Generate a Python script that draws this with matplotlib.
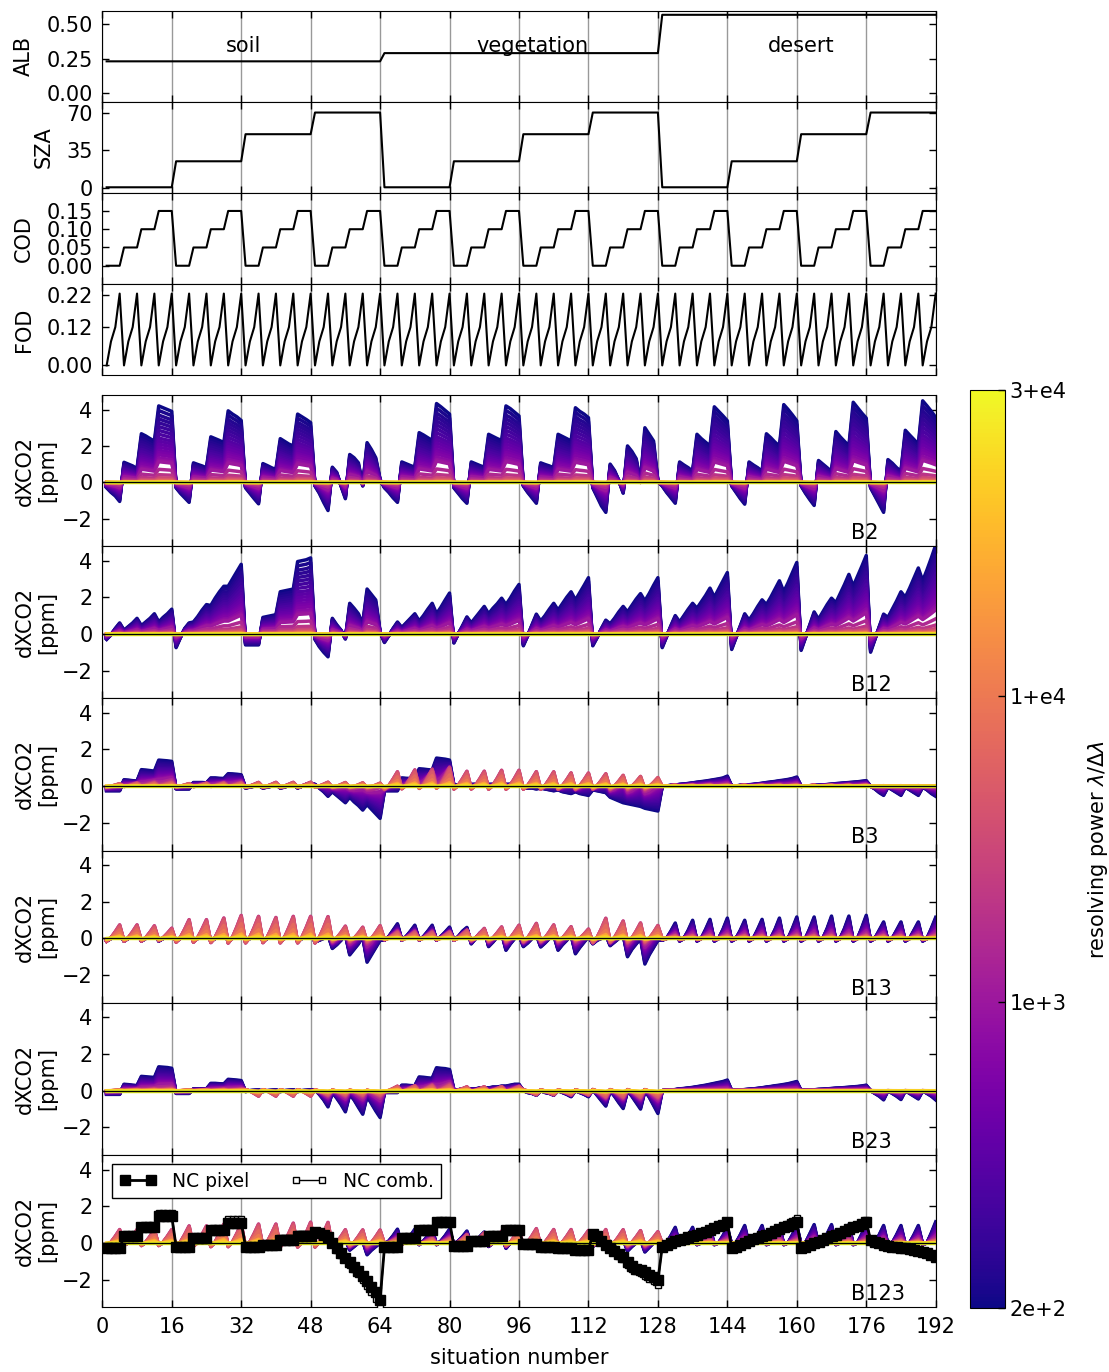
import numpy as np
import matplotlib
matplotlib.use("Agg")
import matplotlib.pyplot as plt
from matplotlib.cm import ScalarMappable
from matplotlib.colors import Normalize

plt.rcParams["font.family"] = ["DejaVu Sans"]
plt.rcParams["font.size"] = 15

# --- situation set-up: 3 surfaces x 4 SZA x 4 COD x 4 FOD = 192 ---------
surface_names = ["soil", "vegetation", "desert"]
surface_label_x = [32.5, 99, 161]
surface_albedo = [0.23, 0.29, 0.57]
sza_levels = [1, 25, 50, 70]
cod_levels = [0.0, 0.05, 0.10, 0.15]
fod_levels = [0.0, 0.075, 0.12, 0.225]

# --- resolving powers and the share of the low / mid resolution error ---
resolving_power = [200, 220, 240, 260, 280, 300, 330, 360, 400, 440, 480,
                   530, 580, 640, 700, 800, 900, 1000, 1500, 2000, 3000,
                   4000, 5000, 7000, 10000, 15000, 20000, 30000]
weight_low = [1.0, 0.94, 0.88, 0.83, 0.78, 0.73, 0.68, 0.63, 0.58, 0.54,
              0.50, 0.46, 0.42, 0.39, 0.36, 0.32, 0.29, 0.27, 0.17, 0.10,
              0.06, 0.04, 0.03, 0.02, 0.012, 0.006, 0.003, 0.0]
weight_mid = [0.0, 0.0, 0.05, 0.05, 0.1, 0.1, 0.15, 0.2, 0.25, 0.3, 0.35,
              0.4, 0.45, 0.5, 0.55, 0.6, 0.65, 0.7, 0.85, 1.0, 1.0, 0.95,
              0.85, 0.65, 0.4, 0.2, 0.1, 0.0]
cbar_rp = [200, 1000, 10000, 30000]
cbar_labels = ["2e+2", "1e+3", "1+e4", "3+e4"]

# shape of the FOD zig-zag inside one group of 4 situations
zigzag_shape = [-0.2, 0.05, 0.5, 1.0]

# --- dXCO2 at the lowest resolving power, one row per 16 situations -----
b2_low = [
    -0.30, -0.55, -0.75, -1.05, 1.10, 1.00, 0.90, 0.75, 2.67, 2.55, 2.40, 2.27, 4.20, 4.10, 4.00, 3.90,
    -0.30, -0.60, -0.85, -1.10, 1.07, 0.98, 0.90, 0.80, 2.50, 2.40, 2.30, 2.18, 3.93, 3.75, 3.60, 3.40,
    -0.30, -0.60, -0.90, -1.18, 1.03, 0.92, 0.80, 0.70, 2.40, 2.25, 2.10, 2.00, 3.75, 3.60, 3.45, 3.28,
    -0.20, -0.60, -1.10, -1.55, 0.83, 0.55, -0.20, -0.90, 1.53, 1.35, 1.07, -0.20, 2.18, 1.80, 1.35, 0.15,
    -0.30, -0.55, -0.85, -1.10, 1.12, 1.02, 0.92, 0.83, 2.73, 2.60, 2.45, 2.30, 4.33, 4.15, 3.95, 3.75,
    -0.30, -0.60, -0.90, -1.15, 1.12, 1.02, 0.92, 0.83, 2.64, 2.52, 2.40, 2.30, 4.20, 4.05, 3.85, 3.65,
    -0.20, -0.55, -0.85, -1.15, 1.07, 0.98, 0.90, 0.80, 2.64, 2.52, 2.40, 2.27, 4.10, 3.90, 3.75, 3.55,
    -0.30, -0.80, -1.30, -1.65, 1.00, 0.65, 0.10, -0.60, 2.00, 1.70, 1.30, 0.00, 3.00, 2.64, 2.27, 0.05,
    -0.20, -0.55, -0.85, -1.15, 1.12, 0.95, 0.80, 0.60, 2.64, 2.40, 2.20, 2.00, 4.15, 3.90, 3.65, 3.38,
    -0.20, -0.55, -0.90, -1.20, 1.12, 0.95, 0.80, 0.60, 2.67, 2.45, 2.20, 2.00, 4.27, 4.00, 3.70, 3.38,
    -0.20, -0.60, -0.95, -1.27, 1.20, 1.00, 0.80, 0.60, 2.79, 2.50, 2.25, 2.00, 4.40, 4.10, 3.80, 3.53,
    -0.30, -0.75, -1.20, -1.65, 1.25, 1.05, 0.80, 0.60, 2.86, 2.60, 2.35, 2.10, 4.48, 4.20, 3.90, 3.57,
]
b12_low = [
    -0.30, -0.05, 0.30, 0.60, 0.20, 0.40, 0.60, 0.85, 0.45, 0.65, 0.85, 1.10, 0.65, 0.90, 1.10, 1.35,
    -0.75, -0.20, 0.30, 0.60, 0.65, 0.95, 1.30, 1.60, 1.55, 1.95, 2.30, 2.60, 2.60, 3.00, 3.40, 3.80,
    -0.60, -0.60, -0.60, -0.60, 0.90, 0.95, 1.00, 1.05, 2.30, 2.35, 2.40, 2.45, 3.95, 4.00, 4.05, 4.15,
    -0.30, -0.70, -1.00, -1.25, 0.85, 0.50, 0.20, -0.28, 1.67, 1.40, 1.10, 0.55, 2.45, 2.15, 1.85, 0.10,
    -0.47, -0.10, 0.30, 0.65, 0.35, 0.60, 0.85, 1.10, 0.70, 1.00, 1.35, 1.67, 1.10, 1.45, 1.85, 2.23,
    -0.50, 0.00, 0.45, 0.93, 0.60, 0.90, 1.20, 1.50, 1.10, 1.40, 1.65, 1.95, 1.60, 1.95, 2.35, 2.70,
    -0.65, -0.10, 0.50, 1.08, 0.70, 1.00, 1.35, 1.67, 1.30, 1.65, 2.00, 2.30, 1.85, 2.25, 2.65, 3.07,
    -0.65, -0.20, 0.30, 0.75, 0.55, 0.85, 1.20, 1.50, 1.20, 1.55, 1.90, 2.20, 1.80, 2.20, 2.65, 3.07,
    -0.75, -0.15, 0.45, 1.00, 0.65, 1.00, 1.35, 1.67, 1.40, 1.75, 2.10, 2.50, 2.00, 2.45, 2.90, 3.35,
    -0.85, -0.20, 0.45, 1.10, 0.75, 1.10, 1.50, 1.86, 1.60, 2.00, 2.45, 2.90, 2.30, 2.80, 3.35, 3.90,
    -0.90, -0.20, 0.50, 1.20, 0.80, 1.20, 1.60, 1.95, 1.70, 2.20, 2.70, 3.25, 2.60, 3.15, 3.70, 4.28,
    -1.00, -0.30, 0.40, 1.08, 0.90, 1.35, 1.80, 2.30, 2.00, 2.50, 3.05, 3.60, 2.90, 3.50, 4.15, 4.85,
]
b3_low = [
    -0.25, -0.25, -0.25, -0.25, 0.35, 0.33, 0.30, 0.28, 0.90, 0.88, 0.85, 0.82, 1.42, 1.40, 1.38, 1.35,
    -0.15, -0.15, -0.15, -0.15, 0.20, 0.20, 0.20, 0.18, 0.45, 0.45, 0.43, 0.42, 0.68, 0.67, 0.65, 0.62,
    -0.10, -0.05, 0.00, 0.05, -0.10, -0.05, 0.00, 0.10, -0.10, -0.05, 0.05, 0.10, -0.10, 0.00, 0.10, 0.15,
    0.10, -0.10, -0.30, -0.55, -0.30, -0.50, -0.70, -0.90, -0.60, -0.85, -1.05, -1.30, -1.00, -1.25, -1.50, -1.75,
    -0.25, -0.25, -0.25, -0.25, 0.45, 0.43, 0.42, 0.40, 0.95, 0.93, 0.90, 0.88, 1.53, 1.50, 1.47, 1.42,
    0.05, 0.05, 0.10, 0.10, 0.10, 0.10, 0.15, 0.15, 0.10, 0.10, 0.15, 0.15, 0.10, 0.10, 0.15, 0.15,
    -0.05, -0.10, -0.10, -0.15, -0.10, -0.15, -0.20, -0.25, -0.20, -0.30, -0.35, -0.40, -0.30, -0.40, -0.45, -0.50,
    -0.20, -0.25, -0.30, -0.35, -0.60, -0.70, -0.80, -0.90, -0.95, -1.00, -1.05, -1.10, -1.20, -1.25, -1.30, -1.35,
    0.00, 0.02, 0.04, 0.06, 0.10, 0.12, 0.15, 0.18, 0.22, 0.25, 0.28, 0.32, 0.36, 0.40, 0.45, 0.55,
    0.00, 0.02, 0.04, 0.06, 0.08, 0.10, 0.13, 0.16, 0.20, 0.23, 0.26, 0.30, 0.33, 0.37, 0.42, 0.50,
    0.00, 0.01, 0.02, 0.03, 0.05, 0.07, 0.09, 0.11, 0.14, 0.16, 0.18, 0.20, 0.22, 0.24, 0.27, 0.30,
    0.00, -0.15, -0.35, -0.50, -0.05, -0.20, -0.35, -0.50, -0.05, -0.20, -0.35, -0.50, -0.05, -0.20, -0.40, -0.55,
]
b13_low = [
    -0.15, 0.00, 0.15, 0.30, -0.15, 0.00, 0.15, 0.30, -0.15, 0.00, 0.15, 0.30, -0.15, 0.00, 0.15, 0.30,
    -0.15, 0.00, 0.20, 0.35, -0.15, 0.00, 0.20, 0.35, -0.15, 0.00, 0.20, 0.35, -0.15, 0.00, 0.20, 0.35,
    -0.15, 0.00, 0.20, 0.35, -0.15, 0.00, 0.20, 0.35, -0.15, 0.00, 0.20, 0.35, -0.15, 0.00, 0.20, 0.35,
    -0.20, -0.10, 0.00, 0.20, -0.55, -0.35, -0.10, 0.20, -0.90, -0.60, -0.30, 0.10, -1.30, -0.90, -0.50, -0.10,
    -0.10, 0.10, 0.45, 0.80, -0.10, 0.10, 0.40, 0.72, -0.10, 0.10, 0.40, 0.72, -0.10, 0.10, 0.35, 0.62,
    -0.10, 0.10, 0.40, 0.60, -0.30, 0.00, 0.30, 0.50, -0.45, -0.20, 0.10, 0.30, -0.65, -0.30, 0.00, 0.20,
    -0.45, -0.25, 0.00, 0.20, -0.47, -0.25, 0.00, 0.20, -0.65, -0.35, -0.10, 0.20, -0.84, -0.50, -0.20, 0.10,
    -0.30, -0.10, 0.00, 0.20, -0.40, -0.20, 0.00, 0.20, -1.00, -0.60, -0.30, 0.00, -1.40, -0.90, -0.50, -0.10,
    -0.10, 0.00, 0.40, 0.84, -0.15, 0.00, 0.45, 0.99, -0.15, 0.00, 0.50, 1.04, -0.15, 0.00, 0.50, 1.11,
    -0.15, 0.00, 0.45, 0.99, -0.15, 0.00, 0.50, 1.04, -0.15, 0.00, 0.50, 1.11, -0.15, 0.00, 0.55, 1.17,
    -0.15, 0.00, 0.55, 1.17, -0.15, 0.00, 0.55, 1.22, -0.15, 0.00, 0.55, 1.22, -0.15, 0.00, 0.60, 1.26,
    -0.15, 0.00, 0.45, 0.90, -0.15, 0.00, 0.45, 0.90, -0.15, 0.00, 0.45, 0.90, -0.15, 0.00, 0.55, 1.15,
]
b23_low = [
    -0.20, -0.20, -0.20, -0.20, 0.35, 0.33, 0.30, 0.28, 0.78, 0.76, 0.74, 0.72, 1.30, 1.28, 1.26, 1.22,
    -0.15, -0.15, -0.15, -0.15, 0.10, 0.10, 0.10, 0.10, 0.40, 0.40, 0.38, 0.37, 0.62, 0.60, 0.58, 0.55,
    -0.05, 0.00, 0.02, 0.05, -0.05, 0.00, 0.02, 0.05, -0.05, 0.00, 0.02, 0.05, -0.05, 0.00, 0.02, 0.05,
    0.05, -0.20, -0.50, -0.88, -0.10, -0.40, -0.75, -1.15, -0.20, -0.50, -0.90, -1.28, -0.30, -0.70, -1.10, -1.46,
    -0.10, -0.10, -0.10, -0.10, 0.30, 0.30, 0.28, 0.27, 0.75, 0.73, 0.70, 0.68, 1.25, 1.22, 1.20, 1.15,
    0.05, 0.05, 0.10, 0.10, 0.10, 0.10, 0.15, 0.15, 0.15, 0.20, 0.20, 0.25, 0.25, 0.30, 0.35, 0.35,
    0.00, -0.10, -0.15, -0.25, 0.00, -0.10, -0.15, -0.25, 0.00, -0.10, -0.20, -0.33, 0.00, -0.10, -0.20, -0.33,
    0.05, -0.25, -0.55, -0.84, 0.00, -0.30, -0.65, -0.97, 0.00, -0.30, -0.65, -1.00, 0.00, -0.35, -0.80, -1.24,
    0.00, 0.02, 0.04, 0.06, 0.10, 0.12, 0.15, 0.18, 0.22, 0.26, 0.30, 0.35, 0.40, 0.45, 0.50, 0.58,
    0.00, 0.02, 0.04, 0.06, 0.08, 0.10, 0.13, 0.16, 0.20, 0.23, 0.27, 0.30, 0.34, 0.38, 0.44, 0.50,
    0.00, 0.02, 0.04, 0.05, 0.07, 0.08, 0.10, 0.12, 0.14, 0.15, 0.17, 0.19, 0.21, 0.23, 0.26, 0.30,
    0.00, -0.15, -0.30, -0.50, 0.00, -0.15, -0.30, -0.48, 0.00, -0.15, -0.30, -0.45, 0.00, -0.15, -0.30, -0.50,
]
b123_low = [
    -0.10, 0.00, 0.15, 0.30, -0.10, 0.00, 0.15, 0.30, -0.10, 0.00, 0.15, 0.30, -0.10, 0.00, 0.15, 0.30,
    -0.10, 0.00, 0.15, 0.30, -0.10, 0.00, 0.15, 0.30, -0.10, 0.00, 0.15, 0.30, -0.10, 0.00, 0.15, 0.30,
    -0.10, 0.00, 0.15, 0.30, -0.10, 0.00, 0.15, 0.30, -0.10, 0.00, 0.15, 0.30, -0.10, 0.00, 0.15, 0.30,
    -0.10, 0.00, 0.10, 0.20, -0.20, -0.10, 0.00, 0.20, -0.40, -0.20, 0.00, 0.10, -0.65, -0.40, -0.20, 0.00,
    -0.10, 0.10, 0.40, 0.75, -0.10, 0.10, 0.40, 0.75, -0.10, 0.10, 0.40, 0.75, -0.10, 0.10, 0.40, 0.75,
    -0.10, 0.10, 0.35, 0.65, -0.10, 0.10, 0.35, 0.60, -0.20, 0.00, 0.30, 0.50, -0.30, 0.00, 0.20, 0.40,
    -0.20, 0.00, 0.15, 0.30, -0.20, 0.00, 0.15, 0.30, -0.20, 0.00, 0.15, 0.30, -0.20, 0.00, 0.15, 0.30,
    -0.20, 0.00, 0.15, 0.30, -0.30, -0.10, 0.10, 0.20, -0.45, -0.20, 0.00, 0.20, -0.50, -0.25, 0.00, 0.15,
    -0.10, 0.00, 0.40, 0.85, -0.10, 0.00, 0.40, 0.85, -0.10, 0.00, 0.40, 0.85, -0.10, 0.00, 0.40, 0.85,
    -0.10, 0.00, 0.45, 0.95, -0.10, 0.00, 0.45, 0.95, -0.10, 0.00, 0.45, 0.95, -0.10, 0.00, 0.45, 0.95,
    -0.10, 0.00, 0.50, 1.00, -0.10, 0.00, 0.50, 1.00, -0.10, 0.00, 0.50, 1.00, -0.10, 0.00, 0.50, 1.00,
    -0.10, 0.00, 0.45, 0.95, -0.10, 0.00, 0.45, 0.95, -0.10, 0.00, 0.45, 0.95, -0.10, 0.00, 0.55, 1.15,
]

# --- peak of the mid resolving power zig-zag, one value per 4 situations --
b3_mid_peak = [0.15, 0.15, 0.15, 0.15, 0.15, 0.15, 0.15, 0.15,
               0.20, 0.20, 0.20, 0.20, 0.25, 0.25, 0.25, 0.25,
               0.80, 0.85, 0.85, 0.90, 0.80, 0.80, 0.85, 0.85,
               0.80, 0.80, 0.75, 0.75, 0.70, 0.65, 0.60, 0.55,
               0.05, 0.05, 0.05, 0.05, 0.05, 0.05, 0.05, 0.05,
               0.05, 0.05, 0.05, 0.05, 0.05, 0.05, 0.05, 0.05]
b13_mid_peak = [0.71, 0.71, 0.66, 0.53, 0.99, 0.99, 1.08, 1.22,
                1.17, 1.11, 1.17, 1.17, 1.17, 0.65, 0.60, 0.70,
                0.30, 0.30, 0.30, 0.30, 0.40, 0.50, 0.60, 0.70,
                0.80, 0.72, 0.62, 0.50, 1.08, 0.93, 0.84, 0.71,
                0.10, 0.10, 0.10, 0.10, 0.10, 0.10, 0.10, 0.10,
                0.10, 0.10, 0.10, 0.10, 0.10, 0.10, 0.10, 0.10]
b23_mid_peak = [0.05, 0.05, 0.05, 0.05, 0.05, 0.05, 0.05, 0.05,
                -0.30, -0.30, -0.30, -0.30, -0.20, -0.20, -0.20, -0.20,
                0.25, 0.25, 0.25, 0.25, 0.20, 0.20, 0.20, 0.20,
                -0.20, -0.20, -0.20, -0.20, -0.30, -0.30, -0.30, -0.30,
                0.00, 0.00, 0.00, 0.00, 0.00, 0.00, 0.00, 0.00,
                0.00, 0.00, 0.00, 0.00, 0.00, 0.00, 0.00, 0.00]
b123_mid_peak = [0.70, 0.70, 0.70, 0.70, 0.90, 0.90, 1.00, 1.00,
                 1.00, 1.00, 1.05, 1.10, 1.10, 0.70, 0.70, 0.70,
                 0.20, 0.20, 0.20, 0.20, 0.40, 0.50, 0.60, 0.70,
                 0.75, 0.70, 0.70, 0.65, 0.70, 0.70, 0.65, 0.60,
                 0.10, 0.10, 0.10, 0.10, 0.10, 0.10, 0.10, 0.10,
                 0.10, 0.10, 0.10, 0.10, 0.10, 0.10, 0.10, 0.10]

# --- non-linear correction results shown in B123 ------------------------
nc_pixel = [
    -0.30, -0.30, -0.30, -0.30, 0.35, 0.35, 0.35, 0.35, 0.85, 0.85, 0.85, 0.85, 1.45, 1.45, 1.45, 1.45,
    -0.20, -0.20, -0.20, -0.20, 0.25, 0.25, 0.25, 0.25, 0.70, 0.70, 0.70, 0.70, 1.10, 1.10, 1.10, 1.10,
    -0.20, -0.20, -0.20, -0.20, -0.10, -0.10, -0.10, -0.10, 0.15, 0.15, 0.15, 0.15, 0.40, 0.40, 0.40, 0.40,
    0.60, 0.55, 0.45, 0.30, 0.00, -0.30, -0.55, -0.80, -1.05, -1.30, -1.55, -1.80, -2.10, -2.40, -2.70, -3.10,
    -0.25, -0.25, -0.25, -0.25, 0.25, 0.25, 0.25, 0.25, 0.70, 0.70, 0.70, 0.70, 1.15, 1.15, 1.15, 1.15,
    -0.15, -0.15, -0.15, -0.15, 0.10, 0.10, 0.10, 0.10, 0.40, 0.40, 0.40, 0.40, 0.70, 0.70, 0.70, 0.70,
    -0.05, -0.05, -0.05, -0.05, -0.20, -0.20, -0.20, -0.20, -0.30, -0.30, -0.30, -0.30, -0.40, -0.40, -0.40, -0.40,
    0.50, 0.40, 0.10, -0.10, -0.30, -0.45, -0.60, -0.75, -1.05, -1.25, -1.40, -1.50, -1.60, -1.75, -1.85, -2.05,
    -0.20, -0.10, 0.00, 0.10, 0.15, 0.20, 0.30, 0.35, 0.45, 0.55, 0.60, 0.70, 0.80, 0.90, 1.00, 1.15,
    -0.30, -0.20, -0.10, 0.00, 0.10, 0.20, 0.25, 0.35, 0.45, 0.55, 0.65, 0.75, 0.85, 0.95, 1.05, 1.15,
    -0.30, -0.20, -0.10, 0.00, 0.05, 0.15, 0.25, 0.35, 0.45, 0.55, 0.65, 0.75, 0.85, 0.95, 1.05, 1.15,
    0.15, 0.05, 0.00, -0.10, -0.15, -0.20, -0.25, -0.30, -0.30, -0.35, -0.40, -0.45, -0.50, -0.55, -0.65, -0.75,
]
nc_comb = [
    -0.30, -0.30, -0.30, -0.30, 0.35, 0.35, 0.35, 0.35, 0.90, 0.90, 0.90, 0.90, 1.65, 1.65, 1.65, 1.65,
    -0.20, -0.20, -0.20, -0.20, 0.25, 0.25, 0.25, 0.25, 0.75, 0.75, 0.75, 0.75, 1.30, 1.30, 1.30, 1.30,
    -0.20, -0.20, -0.20, -0.20, -0.10, -0.10, -0.10, -0.10, 0.25, 0.25, 0.25, 0.25, 0.50, 0.50, 0.50, 0.50,
    0.60, 0.55, 0.45, 0.30, -0.05, -0.40, -0.65, -0.90, -1.20, -1.45, -1.70, -2.00, -2.35, -2.70, -3.05, -3.45,
    -0.25, -0.25, -0.25, -0.25, 0.25, 0.25, 0.25, 0.25, 0.70, 0.70, 0.70, 0.70, 1.20, 1.20, 1.20, 1.20,
    -0.15, -0.15, -0.15, -0.15, 0.10, 0.10, 0.10, 0.10, 0.40, 0.40, 0.40, 0.40, 0.70, 0.70, 0.70, 0.70,
    -0.05, -0.05, -0.05, -0.05, -0.20, -0.20, -0.20, -0.20, -0.30, -0.30, -0.30, -0.30, -0.40, -0.40, -0.40, -0.40,
    0.50, 0.40, 0.10, -0.10, -0.35, -0.50, -0.70, -0.90, -1.20, -1.40, -1.55, -1.65, -1.80, -1.95, -2.10, -2.30,
    -0.20, -0.10, 0.00, 0.10, 0.15, 0.20, 0.30, 0.35, 0.45, 0.55, 0.60, 0.70, 0.80, 0.90, 1.05, 1.20,
    -0.30, -0.20, -0.10, 0.00, 0.10, 0.20, 0.25, 0.35, 0.45, 0.55, 0.65, 0.75, 0.90, 1.05, 1.20, 1.35,
    -0.30, -0.20, -0.10, 0.00, 0.05, 0.15, 0.25, 0.35, 0.45, 0.55, 0.65, 0.75, 0.85, 1.00, 1.10, 1.25,
    0.15, 0.05, 0.00, -0.10, -0.15, -0.20, -0.25, -0.30, -0.30, -0.35, -0.40, -0.45, -0.50, -0.55, -0.65, -0.75,
]

band_panels = [
    ("B2", b2_low, None),
    ("B12", b12_low, None),
    ("B3", b3_low, b3_mid_peak),
    ("B13", b13_low, b13_mid_peak),
    ("B23", b23_low, b23_mid_peak),
    ("B123", b123_low, b123_mid_peak),
]

# --- layout in pixels of the 1109 x 1372 figure -------------------------
FIG_W, FIG_H = 1109, 1372
AX_LEFT, AX_RIGHT = 102.3, 935.7
param_edges = [(10.7, 101.7), (101.7, 192.7), (192.7, 284.0), (284.0, 375.0)]
band_edges = [(395.0, 546.0), (546.0, 698.0), (698.0, 850.5),
              (850.5, 1002.5), (1002.5, 1155.0), (1155.0, 1307.0)]


def add_panel(fig, top, bottom):
    return fig.add_axes([
        AX_LEFT / FIG_W,
        1 - bottom / FIG_H,
        (AX_RIGHT - AX_LEFT) / FIG_W,
        (bottom - top) / FIG_H,
    ])


def style_panel(ax, show_xlabels):
    ax.set_xlim(0, 192)
    ax.set_xticks(np.arange(0, 193, 16))
    ax.grid(axis="x", color="0.6", linewidth=1)
    ax.set_axisbelow(True)
    ax.tick_params(direction="in", top=True, right=True, length=5,
                   width=1, pad=7, labelbottom=show_xlabels)


situation = np.arange(1, 193)
alb = np.repeat(surface_albedo, 64)
sza = np.tile(np.repeat(sza_levels, 16), 3)
cod = np.tile(np.repeat(cod_levels, 4), 12)
fod = np.tile(fod_levels, 48)

color_pos = np.interp(np.log10(resolving_power), np.log10(cbar_rp),
                      [0, 1 / 3, 2 / 3, 1])
line_colors = plt.cm.plasma(color_pos)

fig = plt.figure(figsize=(FIG_W / 100, FIG_H / 100), dpi=100)

param_panels = [
    ("ALB", alb, (-0.065, 0.60), [0, 0.25, 0.5], ["0.00", "0.25", "0.50"]),
    ("SZA", sza, (-4, 80), [0, 35, 70], ["0", "35", "70"]),
    ("COD", cod, (-0.05, 0.20), [0, 0.05, 0.10, 0.15],
     ["0.00", "0.05", "0.10", "0.15"]),
    ("FOD", fod, (-0.03, 0.255), [0, 0.12, 0.22], ["0.00", "0.12", "0.22"]),
]

for (name, values, ylim, ticks, labels), (top, bottom) in zip(param_panels, param_edges):
    ax = add_panel(fig, top, bottom)
    style_panel(ax, False)
    ax.plot(situation, values, color="k", linewidth=1.5)
    ax.set_ylim(*ylim)
    ax.set_yticks(ticks)
    ax.set_yticklabels(labels)
    ax.set_ylabel(name, labelpad=9)
    if name == "ALB":
        for label, x in zip(surface_names, surface_label_x):
            ax.text(x, 0.34, label, ha="center", va="center")

for index, ((name, low, mid_peak), (top, bottom)) in enumerate(zip(band_panels, band_edges)):
    ax = add_panel(fig, top, bottom)
    is_last = index == len(band_panels) - 1
    style_panel(ax, is_last)

    low = np.asarray(low)
    if mid_peak is None:
        mid = np.zeros(192)
    else:
        mid = np.repeat(mid_peak, 4) * np.tile(zigzag_shape, 48)

    for w_low, w_mid, color in zip(weight_low, weight_mid, line_colors):
        ax.plot(situation, w_low * low + w_mid * mid, color=color,
                linewidth=2.5, solid_joinstyle="round")
    ax.axhline(0, color="k", linewidth=1)

    ax.set_ylim(-3.5, 4.8)
    ax.set_yticks([-2, 0, 2, 4])
    ax.set_yticklabels(["\u22122", "0", "2", "4"])
    ax.set_ylabel("dXCO2\n[ppm]", labelpad=3)
    ax.text(172.5, -3.1, name, ha="left", va="baseline")

    if is_last:
        ax.plot(situation, nc_comb, color="k", marker="s", markersize=5,
                markerfacecolor="white", markeredgecolor="k",
                markeredgewidth=1, linewidth=1, label="NC comb.", zorder=5)
        ax.plot(situation, nc_pixel, color="k", marker="s", markersize=7,
                linewidth=2, label="NC pixel", zorder=6)
        handles, labels = ax.get_legend_handles_labels()
        ax.legend(handles[::-1], labels[::-1], loc="upper left", ncol=2,
                  fontsize=13.5, numpoints=2, fancybox=False, edgecolor="k",
                  framealpha=1, handlelength=2, columnspacing=2.2)
        ax.set_xlabel("situation number", labelpad=8)

cax = fig.add_axes([970 / FIG_W, 1 - 1308 / FIG_H, 35 / FIG_W, (1308 - 390) / FIG_H])
mappable = ScalarMappable(norm=Normalize(0, 1), cmap="plasma")
cbar = fig.colorbar(mappable, cax=cax, ticks=[0, 1 / 3, 2 / 3, 1])
cbar.ax.set_yticklabels(cbar_labels)
cbar.ax.tick_params(direction="in", length=5, width=1)
cbar.set_label("resolving power $\\lambda/\\Delta\\lambda$", labelpad=14)

fig.savefig("out.png", dpi=100)
